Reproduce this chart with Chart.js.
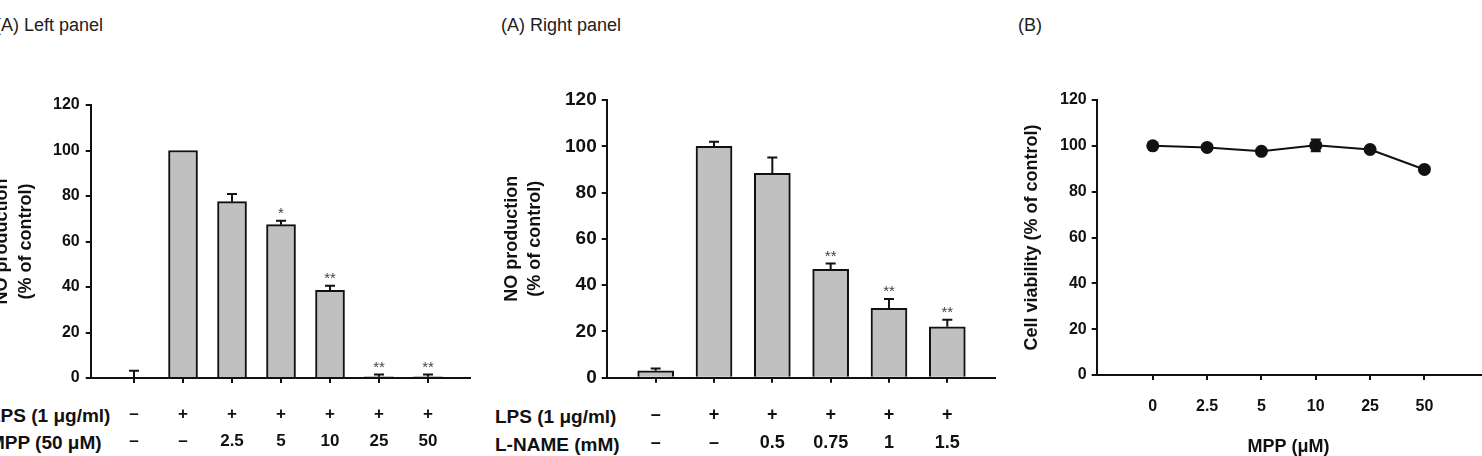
<!DOCTYPE html>
<html>
<head>
<meta charset="utf-8">
<script src="https://cdn.jsdelivr.net/npm/chart.js@4.4.1/dist/chart.umd.min.js"></script>
<style>
  html, body { margin: 0; padding: 0; background: #fff; overflow: hidden; }
  body { width: 1482px; height: 456px; position: relative; font-family: "Liberation Sans", Arial, sans-serif; color: #111; }
  .panel { position: absolute; top: 0; height: 456px; }
  .txt { position: absolute; white-space: nowrap; line-height: 20px; }
  .head { font-size: 18px; color: #222; }
  .row { font-size: 19px; font-weight: bold; }
</style>
</head>
<body>
<div class="txt head" style="left:-5px; top:15px;">(A) Left panel</div>
<div class="txt head" style="left:501px; top:15px;">(A) Right panel</div>
<div class="txt head" style="left:1018px; top:15px;">(B)</div>

<div class="txt row" style="left:-11px; top:406px;">LPS (1 μg/ml)</div>
<div class="txt row" style="left:-11px; top:433px;">MPP (50 μM)</div>
<div class="txt row" style="left:495px; top:407px;">LPS (1 μg/ml)</div>
<div class="txt row" style="left:495px; top:435px;">L-NAME (mM)</div>

<div class="panel" style="left:-20px; width:510px;"><canvas id="left-chart"></canvas></div>
<div class="panel" style="left:490px; width:506px;"><canvas id="middle-chart"></canvas></div>
<div class="panel" style="left:990px; width:497px;"><canvas id="right-chart"></canvas></div>

<script>
const FONT = "'Liberation Sans', Arial, sans-serif";
const INK = "#111";
Chart.defaults.font.family = FONT;
Chart.defaults.color = INK;

// (A) left panel: NO production with MPP
const leftLps = ["–", "+", "+", "+", "+", "+", "+"];
const leftMpp = ["–", "–", "2.5", "5", "10", "25", "50"];
const leftValues = [0, 100, 77.5, 67.4, 38.5, 0.5, 0.5];
const leftErrors = [3.2, 0, 3.4, 1.7, 2, 1, 1];
const leftMarks = ["", "", "", "*", "**", "**", "**"];

// (A) right panel: NO production with L-NAME
const midLps = ["–", "+", "+", "+", "+", "+"];
const midLname = ["–", "–", "0.5", "0.75", "1", "1.5"];
const midValues = [3, 100, 88.3, 46.8, 30, 22];
const midErrors = [1, 2, 6.8, 2.5, 4, 3];
const midMarks = ["", "", "", "**", "**", "**"];

// (B) cell viability
const mppDoses = ["0", "2.5", "5", "10", "25", "50"];
const viability = [100, 99.3, 97.6, 100.2, 98.4, 89.7];
const viabilityErrors = [0, 0, 0, 2.6, 0, 0];

const yTicks = [0, 20, 40, 60, 80, 100, 120];

const errorBarPlugin = {
  id: "errorBars",
  afterDatasetsDraw(chart, args, opts) {
    if (!opts.errors) return;
    const { ctx } = chart;
    const xScale = chart.scales.x;
    const yScale = chart.scales.y;
    const values = chart.data.datasets[0].data;
    ctx.save();
    ctx.strokeStyle = INK;
    ctx.lineWidth = 2;
    values.forEach((p, i) => {
      const err = opts.errors[i];
      const x = xScale.getPixelForValue(p.x);
      const yTop = yScale.getPixelForValue(p.y + err);
      if (err > 0) {
        const yLow = yScale.getPixelForValue(opts.both ? p.y - err : p.y);
        ctx.beginPath();
        ctx.moveTo(x, yLow);
        ctx.lineTo(x, yTop);
        ctx.moveTo(x - opts.cap / 2, yTop);
        ctx.lineTo(x + opts.cap / 2, yTop);
        if (opts.both) {
          ctx.moveTo(x - opts.cap / 2, yLow);
          ctx.lineTo(x + opts.cap / 2, yLow);
        }
        ctx.stroke();
      }
      if (opts.marks && opts.marks[i]) {
        ctx.fillStyle = "#444";
        ctx.font = "15px " + FONT;
        ctx.textAlign = "center";
        ctx.textBaseline = "alphabetic";
        ctx.fillText(opts.marks[i], x, yTop - 3);
      }
    });
    ctx.restore();
  },
};

function yAxis(width, titleText, titlePad, tickSize, tickPad) {
  return {
    min: 0,
    max: 120,
    afterBuildTicks: (axis) => {
      axis.ticks = yTicks.map((v) => ({ value: v }));
    },
    afterFit: (axis) => {
      axis.width = width;
    },
    grid: { drawOnChartArea: false, drawTicks: true, tickLength: 5, color: INK, lineWidth: 2 },
    border: { display: true, color: INK, width: 2 },
    ticks: { padding: tickPad, color: INK, font: { size: tickSize, weight: "bold" } },
    title: {
      display: true,
      text: titleText,
      color: INK,
      padding: { top: titlePad, bottom: 0 },
      font: { size: 18, weight: "bold", lineHeight: 1.3 },
    },
  };
}

// categories sit on a linear axis so the empty space at both ends can be set
function xAxis(count, min, max, height, labelFn, tickSize, lineHeight, pad) {
  return {
    type: "linear",
    offset: false,
    min: min,
    max: max,
    afterBuildTicks: (axis) => {
      axis.ticks = Array.from({ length: count }, (_, i) => ({ value: i }));
    },
    afterFit: (axis) => {
      axis.height = height;
    },
    grid: { offset: false, drawOnChartArea: false, drawTicks: true, tickLength: 5, color: INK, lineWidth: 2 },
    border: { display: true, color: INK, width: 2 },
    ticks: {
      autoSkip: false,
      maxRotation: 0,
      padding: pad,
      color: INK,
      font: { size: tickSize, weight: "bold", lineHeight: lineHeight },
      callback: (v) => labelFn(v),
    },
  };
}

function barChart(id, values, errors, marks, barWidth, layoutPad, xOpts, yOpts) {
  const ctx = document.getElementById(id).getContext("2d");
  return new Chart(ctx, {
    type: "bar",
    plugins: [errorBarPlugin],
    data: {
      datasets: [
        {
          data: values.map((v, i) => ({ x: i, y: v })),
          backgroundColor: "#c0c0c0",
          borderColor: INK,
          borderWidth: 2,
          borderSkipped: "bottom",
          barThickness: barWidth,
        },
      ],
    },
    options: {
      responsive: true,
      maintainAspectRatio: false,
      animation: false,
      layout: { padding: layoutPad },
      plugins: {
        legend: { display: false },
        tooltip: { enabled: false },
        errorBars: { errors: errors, marks: marks, cap: 10 },
      },
      scales: { x: xOpts, y: yOpts },
    },
  });
}

barChart(
  "left-chart",
  leftValues,
  leftErrors,
  leftMarks,
  29,
  { top: 105, right: 20, bottom: 0, left: 0 },
  xAxis(leftMpp.length, -0.884, 6.857, 78, (v) => [leftLps[v], leftMpp[v]], 17, 1.6, 18),
  yAxis(110.7, ["NO production", "(% of control)"], 10.5, 16, 6)
);

barChart(
  "middle-chart",
  midValues,
  midErrors,
  midMarks,
  36,
  { top: 100, right: 0, bottom: 0, left: 0 },
  xAxis(midLname.length, -0.84, 5.835, 78.3, (v) => [midLps[v], midLname[v]], 18, 1.56, 18),
  yAxis(116.7, ["NO production", "(% of control)"], 10.2, 19, 5)
);

const rightCtx = document.getElementById("right-chart").getContext("2d");
const rightX = xAxis(mppDoses.length, -1.032, 6.032, 81, (v) => mppDoses[v], 16, 1.2, 17);
rightX.title = {
  display: true,
  text: "MPP (μM)",
  color: INK,
  padding: { top: 0, bottom: 0 },
  font: { size: 18, weight: "bold", lineHeight: 1.0 },
};
new Chart(rightCtx, {
  type: "line",
  plugins: [errorBarPlugin],
  data: {
    datasets: [
      {
        data: viability.map((v, i) => ({ x: i, y: v })),
        borderColor: INK,
        borderWidth: 2,
        pointRadius: 6.5,
        pointBackgroundColor: INK,
        pointBorderColor: INK,
        pointBorderWidth: 0,
        tension: 0,
      },
    ],
  },
  options: {
    responsive: true,
    maintainAspectRatio: false,
    animation: false,
    layout: { padding: { top: 100, right: 2, bottom: 0, left: 0 } },
    plugins: {
      legend: { display: false },
      tooltip: { enabled: false },
      errorBars: { errors: viabilityErrors, cap: 10, both: true },
    },
    scales: {
      x: rightX,
      y: yAxis(106.7, "Cell viability (% of control)", 30.5, 16, 5),
    },
  },
});
</script>
</body>
</html>
